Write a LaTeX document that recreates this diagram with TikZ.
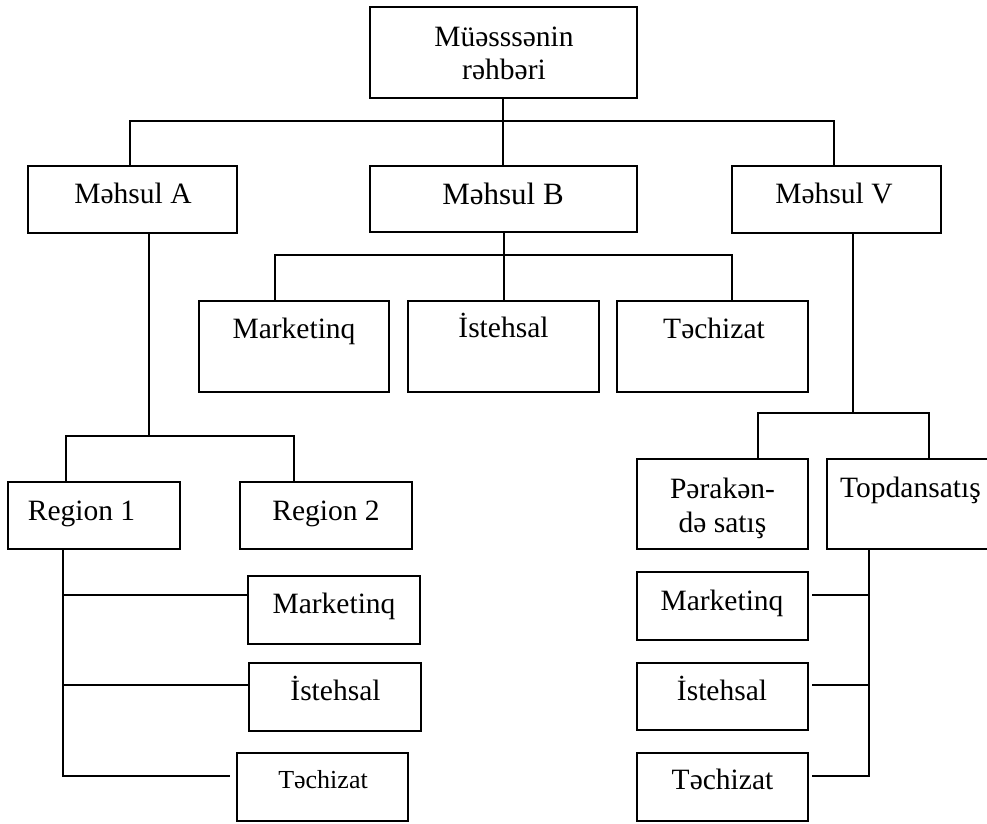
\documentclass[tikz,border=0pt]{standalone}
\usepackage{fontspec}
\setmainfont{Liberation Serif}
\usetikzlibrary{calc}
\tikzset{
  box/.style={draw, line width=1.4pt, rectangle, inner sep=0pt, outer sep=0pt},
  conn/.style={line width=1.3pt, line cap=rect},
  txt/.style={anchor=base, inner sep=0pt, font=\fontsize{29.5}{33}\selectfont},
  txtsm/.style={anchor=base, inner sep=0pt, font=\fontsize{26}{30}\selectfont},
  txtlg/.style={anchor=base, inner sep=0pt, font=\fontsize{31}{35}\selectfont}
}
% \mkbox{name}{x1}{y1}{x2}{y2}
\newcommand\mkbox[5]{\node[box, minimum width={(#4-#2)*1pt}, minimum height={(#5-#3)*1pt}] (#1) at ({(#2+#4)/2},{(#3+#5)/2}) {};}
\begin{document}
\begin{tikzpicture}[x=1pt, y=-1pt]
\useasboundingbox (0,0) rectangle (987,823);
\clip (0,0) rectangle (987,823);
\fill[white] (0,0) rectangle (987,823);

% boxes
\mkbox{top}{370}{7}{637}{98}
\mkbox{MA}{28}{166}{237}{233}
\mkbox{MB}{370}{166}{637}{232}
\mkbox{MV}{732}{166}{941}{233}
\mkbox{MkB}{199}{301}{389}{392}
\mkbox{IsB}{408}{301}{599}{392}
\mkbox{TcB}{617}{301}{808}{392}
\mkbox{Ra}{8}{482}{180}{549}
\mkbox{Rb}{240}{482}{412}{549}
\mkbox{Pe}{637}{459}{808}{549}
\mkbox{Tp}{827}{459}{1000}{549}
\mkbox{MkL}{248}{576}{420}{644}
\mkbox{IsL}{249}{663}{421}{731}
\mkbox{TcL}{237}{753}{408}{821}
\mkbox{MkR}{637}{572}{808}{640}
\mkbox{IsR}{637}{663}{808}{730}
\mkbox{TcR}{637}{753}{808}{821}

% texts
\node[txt] (t1) at (504,46) {Müəsssənin};
\node[txt] (t2) at (504,79) {rəhbəri};
\node[txt] (t3) at (133,203) {Məhsul A};
\node[txtlg] (t4) at (503,204) {Məhsul B};
\node[txt] (t5) at (834,203) {Məhsul V};
\node[txt] (t6) at (294,338) {Marketinq};
\node[txt] (t7) at (503.5,337) {İstehsal};
\node[txt] (t8) at (714,338) {Təchizat};
\node[txt] (t9) at (81.5,520) {Region 1};
\node[txt] (t10) at (326,520) {Region 2};
\node[txt] (t11) at (722.5,498) {Pərakən-};
\node[txt] (t12) at (722.5,532) {də satış};
\node[txt, anchor=base west] (t13) at (840,497) {Topdansatış};
\node[txt] (t14) at (334,613) {Marketinq};
\node[txt] (t15) at (335.5,700) {İstehsal};
\node[txtsm] (t16) at (323,788) {Təchizat};
\node[txt] (t17) at (722,610) {Marketinq};
\node[txt] (t18) at (722,700) {İstehsal};
\node[txt] (t19) at (722.5,789) {Təchizat};

% level 1 connectors
\coordinate (busL) at (130,121);
\coordinate (busM) at (503,121);
\coordinate (busR) at (834,121);
\draw[conn] (top.south -| busM) -- (busM) -- (MB.north -| busM);
\draw[conn] (MA.north -| busL) -- (busL) -- (busR) -- (MV.north -| busR);

% Mehsul A
\coordinate (aS) at (149,436);
\coordinate (aL) at (66,436);
\coordinate (aR) at (294,436);
\draw[conn] (MA.south -| aS) -- (aS);
\draw[conn] (Ra.north -| aL) -- (aL) -- (aR) -- (Rb.north -| aR);

% Mehsul B
\coordinate (bS) at (504,255);
\coordinate (bL) at (275,255);
\coordinate (bR) at (732,255);
\draw[conn] (MB.south -| bS) -- (bS) -- (IsB.north -| bS);
\draw[conn] (MkB.north -| bL) -- (bL) -- (bR) -- (TcB.north -| bR);

% Mehsul V
\coordinate (vS) at (853,413);
\coordinate (vL) at (758,413);
\coordinate (vR) at (929,413);
\draw[conn] (MV.south -| vS) -- (vS);
\draw[conn] (Pe.north -| vL) -- (vL) -- (vR) -- (Tp.north -| vR);

% Region 1 branches
\coordinate (rM) at (63,595);
\coordinate (rI) at (63,685);
\coordinate (rT) at (63,776);
\coordinate (rTend) at (229,776);
\draw[conn] (Ra.south -| rT) -- (rT) -- (rTend);
\draw[conn] (rM) -- (MkL.west |- rM);
\draw[conn] (rI) -- (IsL.west |- rI);

% Topdansatis branches
\coordinate (pM) at (869,595);
\coordinate (pI) at (869,685);
\coordinate (pT) at (869,776);
\coordinate (pMend) at (813,595);
\coordinate (pIend) at (813,685);
\coordinate (pTend) at (813,776);
\draw[conn] (Tp.south -| pT) -- (pT) -- (pTend);
\draw[conn] (pM) -- (pMend);
\draw[conn] (pI) -- (pIend);
\end{tikzpicture}
\end{document}
